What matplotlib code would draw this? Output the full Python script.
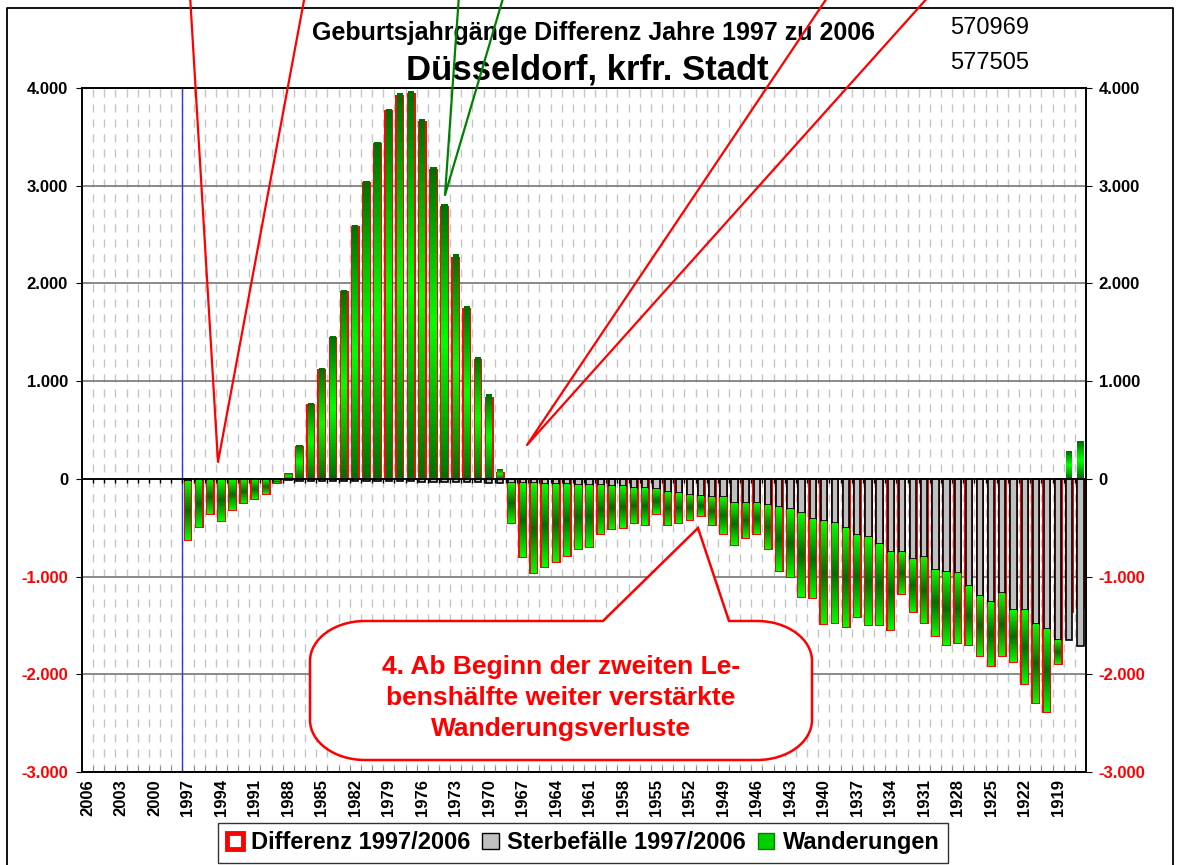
import matplotlib.pyplot as plt
import numpy as np
from matplotlib.patches import Patch, PathPatch
from matplotlib.path import Path
from matplotlib.lines import Line2D
from matplotlib.colors import LinearSegmentedColormap
from matplotlib.ticker import FixedLocator, FuncFormatter

plt.rcParams['font.family'] = ['Liberation Sans', 'DejaVu Sans']

W, H = 1178, 865

# Kategorien: Geburtsjahrgaenge 2006 ... 1917 (Werte erst ab 1997)
years = list(range(2006, 1916, -1))
data_years = list(range(1997, 1916, -1))

differenz = [-624, -494, -358, -430, -317, -249, -208, -157, -45, 45,
             330, 760, 1110, 1445, 1910, 2580, 3025, 3430, 3760, 3920,
             3940, 3655, 3160, 2780, 2265, 1735, 1217, 826, 60, -455,
             -795, -965, -897, -846, -785, -716, -699, -563, -515, -498,
             -455, -470, -358, -470, -447, -426, -379, -470, -563, -675,
             -607, -563, -720, -941, -1006, -1204, -1221, -1487, -1477, -1520,
             -1410, -1495, -1495, -1545, -1180, -1366, -1477, -1606, -1700, -1675,
             -1700, -1810, -1920, -1810, -1875, -2097, -2295, -2387, -1896, -1367,
             -1320]

sterbefaelle = [-25, -10, -8, -7, -6, -6, -6, -7, -10, -15,
                -18, -20, -20, -18, -18, -20, -22, -22, -24, -25,
                -26, -28, -30, -30, -32, -34, -35, -38, -40, -42,
                -45, -45, -48, -50, -55, -58, -60, -65, -70, -75,
                -95, -90, -100, -130, -147, -164, -174, -188, -188, -242,
                -242, -249, -266, -283, -310, -345, -412, -436, -455, -505,
                -573, -600, -665, -744, -744, -820, -795, -930, -958, -965,
                -1100, -1197, -1265, -1170, -1347, -1347, -1483, -1535, -1647, -1647,
                -1708]

wanderungen = [-599, -484, -350, -423, -311, -243, -202, -150, -35, 60,
               348, 780, 1130, 1463, 1928, 2600, 3047, 3452, 3784, 3945,
               3966, 3683, 3190, 2810, 2297, 1769, 1252, 864, 100, -413,
               -750, -920, -849, -796, -730, -658, -639, -498, -445, -423,
               -360, -380, -258, -340, -300, -262, -205, -282, -375, -433,
               -365, -314, -454, -658, -696, -859, -809, -1051, -1022, -1015,
               -837, -895, -830, -801, -436, -546, -682, -676, -742, -710,
               -600, -613, -655, -640, -528, -750, -812, -852, -249, 280,
               388]

tick_years = years[::3][:30]


def fx(x):
    return x / W


def fy(y):
    return 1 - y / H


fig = plt.figure(figsize=(W / 100, H / 100), dpi=100)
ax = fig.add_axes([fx(82), fy(772), (1086 - 82) / W, (772 - 88) / H])

xs = np.array([2006 - y for y in data_years])

# Differenz: roter Rahmen, hinter den gestapelten Saeulen
ax.bar(xs, differenz, width=0.62, facecolor='white', edgecolor='red', lw=1.4, zorder=3)
# Sterbefaelle: grau
ax.bar(xs, sterbefaelle, width=0.56, facecolor='#c0c0c0', edgecolor='black', lw=1.2, zorder=4)

# Wanderungen: gruener Verlauf (in Scheiben), gestapelt auf Sterbefaelle
cmap = LinearSegmentedColormap.from_list('gr', ['#006e00', '#00ff00'])
wv = np.array(wanderungen, dtype=float)
sv = np.array(sterbefaelle, dtype=float)
base = np.where(wv < 0, sv, 0.0)
lo = np.minimum(base, base + wv)
span = np.abs(wv)
N = 40
for j in range(N):
    mid = (j + 0.5) / N
    v = 1 - abs(2 * mid - 1)
    cols = [cmap(v) if w > 0 else cmap(1 - v) for w in wv]
    h = span / N * (1.0 if j == N - 1 else 1.6)
    ax.bar(xs, h, bottom=lo + span * j / N, width=0.56, color=cols,
           lw=0, zorder=5)

ax.set_xlim(-0.5, len(years) - 0.5)
ax.set_ylim(-3000, 4000)

ax.axhline(0, color='black', lw=1.3, zorder=6)
bounds = np.arange(0.5, len(years) - 1, 1.0)
ax.vlines(bounds, -45, 0, color='black', lw=1, zorder=6)
ax.axvline(8.5, color='#3030ff', lw=1, zorder=2)

# Gitter
ax.set_yticks(np.arange(-3000, 4001, 1000))
ax.yaxis.grid(True, color='#808080', lw=1.3)
ax.xaxis.set_minor_locator(FixedLocator(bounds))
ax.xaxis.grid(True, which='minor', color='#c4c4c4', lw=1, linestyle=(0, (5.8, 5)))
ax.set_axisbelow(True)

fmt = FuncFormatter(lambda val, pos: f'{val:,.0f}'.replace(',', '.'))
ax.yaxis.set_major_formatter(fmt)

ax.set_xticks([2006 - y for y in tick_years])
ax.set_xticklabels([str(y) for y in tick_years], rotation=90, fontsize=12, fontweight='bold')
ax.tick_params(axis='x', which='major', length=0, pad=5)
ax.tick_params(axis='x', which='minor', direction='in', length=4, color='#808080')
ax.tick_params(axis='y', length=4, pad=6, labelsize=12)

ax2 = ax.twinx()
ax2.set_ylim(-3000, 4000)
ax2.set_yticks(np.arange(-3000, 4001, 1000))
ax2.yaxis.set_major_formatter(fmt)
ax2.tick_params(axis='y', length=4, pad=5, labelsize=12)

for a in (ax, ax2):
    for lab, val in zip(a.get_yticklabels(), np.arange(-3000, 4001, 1000)):
        lab.set_fontweight('bold')
        lab.set_color('red' if val < 0 else 'black')
    for s in a.spines.values():
        s.set_color('black')
        s.set_linewidth(1.2)

# Titel
fig.text(fx(593), fy(33), 'Geburtsjahrgänge Differenz Jahre 1997 zu 2006',
         ha='center', va='center', fontsize=18, fontweight='bold')
fig.text(fx(587), fy(70), 'Düsseldorf, krfr. Stadt',
         ha='center', va='center', fontsize=25, fontweight='bold')
fig.text(fx(950), fy(28), '570969', ha='left', va='center', fontsize=17)
fig.text(fx(950), fy(63), '577505', ha='left', va='center', fontsize=17)

# Aeusserer Rahmen
fig.add_artist(Line2D([fx(7), fx(7), fx(1173), fx(1173)], [fy(870), fy(8), fy(8), fy(870)],
                      transform=fig.transFigure, color='black', lw=1.3))

# Zeigerlinien von (abgeschnittenen) Legendenkaesten
for pts, col in [([(190, -5), (218, 462), (305, -5)], 'red'),
                 ([(459, -5), (445, 195), (504, -5)], '#008000'),
                 ([(829, -5), (527, 445), (930, -5)], 'red')]:
    fig.add_artist(Line2D([fx(p[0]) for p in pts], [fy(p[1]) for p in pts],
                          transform=fig.transFigure, color=col, lw=1.6, zorder=10))

# Sprechblase
L, R, T, B, rx, ry = 310, 812, 621, 760, 55, 40
k = 0.5523
verts = [(L + rx, T), (603, T), (698, 528), (729, T), (R - rx, T),
         (R - rx + k * rx, T), (R, T + ry - k * ry), (R, T + ry),
         (R, B - ry),
         (R, B - ry + k * ry), (R - rx + k * rx, B), (R - rx, B),
         (L + rx, B),
         (L + rx - k * rx, B), (L, B - ry + k * ry), (L, B - ry),
         (L, T + ry),
         (L, T + ry - k * ry), (L + rx - k * rx, T), (L + rx, T)]
codes = [Path.MOVETO, Path.LINETO, Path.LINETO, Path.LINETO, Path.LINETO,
         Path.CURVE4, Path.CURVE4, Path.CURVE4,
         Path.LINETO,
         Path.CURVE4, Path.CURVE4, Path.CURVE4,
         Path.LINETO,
         Path.CURVE4, Path.CURVE4, Path.CURVE4,
         Path.LINETO,
         Path.CURVE4, Path.CURVE4, Path.CURVE4]
callout = Path([(fx(a), fy(b)) for a, b in verts], codes)
fig.add_artist(PathPatch(callout, transform=fig.transFigure, facecolor='white',
                         edgecolor='red', lw=1.8, zorder=11))
fig.text(fx(561), fy(698), '4. Ab Beginn der zweiten Le-\nbenshälfte weiter verstärkte\nWanderungsverluste',
         ha='center', va='center', fontsize=19, fontweight='bold', color='red',
         linespacing=1.35, zorder=12)

# Legende
handles = [Patch(facecolor='white', edgecolor='red', lw=3.5),
           Patch(facecolor='#c0c0c0', edgecolor='black', lw=1),
           Patch(facecolor='#00d000', edgecolor='#008000', lw=1)]
labels = ['Differenz 1997/2006', 'Sterbefälle 1997/2006', 'Wanderungen']
leg = fig.legend(handles, labels, loc='upper center', bbox_to_anchor=(fx(583), fy(823)),
                 ncol=3, frameon=True, fancybox=False, edgecolor='black',
                 prop={'size': 17, 'weight': 'bold'}, handlelength=0.7, handleheight=0.7,
                 handletextpad=0.35, columnspacing=0.5, borderpad=0.35, borderaxespad=0)
leg.get_frame().set_linewidth(1)

fig.savefig('out.png', dpi=100)
